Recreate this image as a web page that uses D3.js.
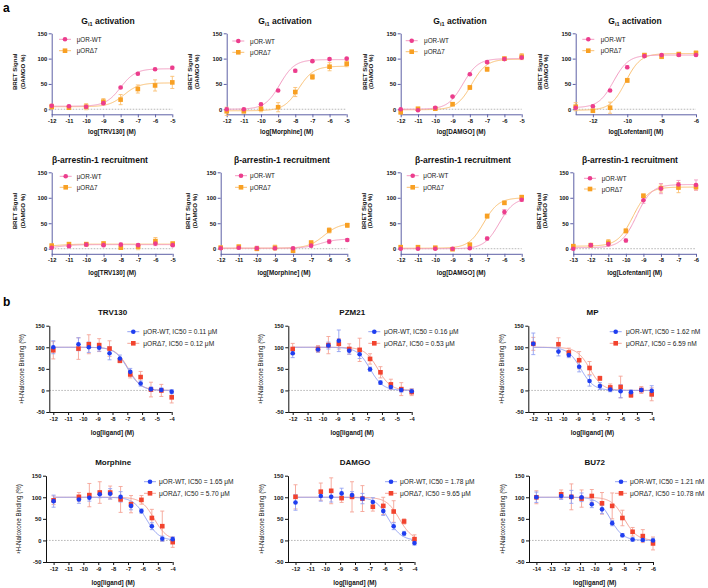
<!DOCTYPE html>
<html><head><meta charset="utf-8">
<script src="https://cdn.jsdelivr.net/npm/d3@7"></script>
<style>body{margin:0;background:#fff}svg{font-family:"Liberation Sans",Arial,sans-serif}</style>
</head><body><svg id="c" width="708" height="588"></svg>
<script>
// ---------------- DATA ----------------
const aDoses   = [-12,-11,-10,-9,-8,-7,-6,-5];
const lofDoses = [-13,-12,-11,-10,-9,-8,-7,-6];
const bDoses   = [-12,-10.3,-9.6,-8.9,-8.2,-7.5,-6.8,-6.1,-5.4,-4.7,-4];
const bu72Doses= [-14,-12.3,-11.6,-10.9,-10.2,-9.5,-8.8,-8.1,-7.4,-6.7,-6];
const aYTicks = [0,50,100,150];
const bYTicks = [-50,0,50,100,150];
const seriesNames = ["μOR-WT","μORΔ7"];
const aLigands = ["TRV130","Morphine","DAMGO","Lofentanil"];
const bLigands = ["TRV130","PZM21","MP","Morphine","DAMGO","BU72"];
const bIC50Labels = [["0.11 μM","0.12 μM"],["0.16 μM","0.53 μM"],["1.62 nM","6.59 nM"],
                     ["1.65 μM","5.70 μM"],["1.78 μM","9.65 μM"],["1.21 nM","10.78 nM"]];

// Gi1 activation (mean, sem)
const giTRV_wt=[7,6,5,12,43,70,79,82],   giTRV_wtE=[2,2,2,3,2,2,2,3];
const giTRV_d7=[5,3,5,15,19,40,47,53],   giTRV_d7E=[5,3,6,6,10,8,11,12];
const giMor_wt=[0,0,10,37,76,95,99,100], giMor_wtE=[2,2,2,2,3,2,2,2];
const giMor_d7=[-4,-4,1,4,34,64,84,90],  giMor_d7E=[8,3,6,9,9,5,8,6];
const giDAM_wt=[0,-2,3,25,69,93,99,102], giDAM_wtE=[1,1,2,2,2,2,2,3];
const giDAM_d7=[-6,1,1,10,43,79,100,104],giDAM_d7E=[3,2,2,3,4,4,3,6];
const giLof_wt=[3,6,37,83,105,107,107,107],giLof_wtE=[2,2,2,3,2,2,2,2];
const giLof_d7=[5,-3,3,57,107,104,109,111],giLof_d7E=[8,2,11,4,3,4,3,4];
// beta-arrestin-1 recruitment
const arTRV_wt=[2,5,8,7,8,7,10,7],       arTRV_wtE=[2,3,2,3,3,3,4,3];
const arTRV_d7=[6,9,9,10,2,4,15,10],     arTRV_d7E=[3,3,3,4,3,6,7,3];
const arMor_wt=[1,2,1,1,1,6,14,17],      arMor_wtE=[2,3,4,3,2,3,4,3];
const arMor_d7=[2,4,0,2,-4,12,36,46],    arMor_d7E=[3,3,4,5,3,3,5,4];
const arDAM_wt=[0,0,0,0,1,20,72,96],     arDAM_wtE=[1,1,1,1,1,3,5,3];
const arDAM_d7=[3,3,2,-1,8,64,90,101],   arDAM_d7E=[2,2,2,2,2,4,3,4];
const arLof_wt=[0,7,9,16,95,118,126,125],arLof_wtE=[2,3,4,3,6,10,8,10];
const arLof_d7=[5,7,12,35,104,119,120,121],arLof_d7E=[2,3,6,4,3,8,10,6];
// fit params: [bottom, top, logEC50]
const fitGi = [[[6,80,-8.0],[5,52,-7.8]],[[0,98,-8.9],[-3,85,-7.8]],[[0,100,-8.4],[-1,99,-7.9]],[[3,107,-10.8],[-2,110,-10.1]]];
const fitAr = [[[1,8,-11.5],[5,9,-11.5]],[[1,19,-6.5],[1,50,-6.3]],[[0,100,-6.3],[1,100,-7.2]],[[2,126,-9.4],[5,121,-9.6]]];

// 3H-naloxone binding
const bTRV_wt=[100,107,100,99,86,74,43,16,3,1,-3],  bTRV_wtE=[15,15,12,8,15,8,8,6,5,5,5];
const bTRV_d7=[93,97,107,105,97,69,37,31,2,0,-16],  bTRV_d7E=[20,25,22,15,18,5,8,13,17,14,13];
const bPZM_wt=[86,95,104,115,92,84,49,18,8,1,-2],   bPZM_wtE=[10,6,8,25,8,10,5,4,5,5,5];
const bPZM_d7=[96,96,105,108,96,94,73,42,14,3,-4],  bPZM_d7E=[13,8,20,12,12,27,12,13,12,15,8];
const bMP_wt =[108,90,82,55,22,10,2,-2,-4,1,-1],    bMP_wtE=[25,10,6,12,12,8,5,15,5,4,12];
const bMP_d7 =[108,107,88,70,52,28,7,8,-11,1,-9],   bMP_d7E=[15,15,10,20,15,5,8,25,5,8,15];
const bMor_wt=[91,95,99,107,108,101,80,68,33,4,3],  bMor_wtE=[14,9,8,8,12,12,9,5,8,6,5];
const bMor_d7=[93,101,105,111,111,95,84,94,52,33,-4],bMor_d7E=[10,10,27,25,15,30,20,10,20,35,12];
const bDAM_wt=[88,103,101,109,105,97,89,68,33,16,-6],bDAM_wtE=[18,12,12,12,8,12,10,10,8,5,5];
const bDAM_d7=[101,113,115,98,101,97,78,80,67,44,3], bDAM_d7E=[28,20,30,10,35,30,10,20,25,6,10];
const bBU_wt =[100,103,101,100,84,72,40,12,2,1,0],  bBU_wtE=[12,8,15,10,8,10,6,4,4,3,5];
const bBU_d7 =[100,107,101,97,103,86,80,52,20,10,-7],bBU_d7E=[15,10,30,20,15,25,30,18,10,15,15];
// log IC50 values
const bLogIC50 = [[-6.96,-6.92],[-6.80,-6.28],[-8.79,-8.18],[-5.78,-5.24],[-5.75,-5.02],[-8.92,-7.97]];

// ---------------- DRAW ----------------
const svg = d3.select('#c');
const COL = {wt:'#ec3d8d', wtL:'#f39cc2', d7:'#f8a023', d7L:'#fbc072',
             bwt:'#1f3ef0', bwtL:'#93a2f3', bd7:'#f2432e', bd7L:'#f5a496'};
const AX_A = '#5d60a6';
const FONT = '"Liberation Sans",Arial,sans-serif';

function drawPanel(c){
  const g = svg.append('g');
  const x = d3.scaleLinear().domain(c.xd).range(c.xr);
  const y = d3.scaleLinear().domain(c.yd).range(c.yr);
  g.append('line').attr('x1',c.axisX).attr('x2',c.xr[1]).attr('y1',y(0)).attr('y2',y(0))
    .attr('stroke','#9a9a9a').attr('stroke-width',0.7).attr('stroke-dasharray','1.6,1.4');
  const yg = g.append('g').attr('transform',`translate(${c.axisX},0)`)
    .call(d3.axisLeft(y).tickValues(c.yt).tickSize(3).tickSizeOuter(0).tickPadding(1.5).tickFormat(d=>String(d)));
  const xg = g.append('g').attr('transform',`translate(0,${c.yr[0]})`)
    .call(d3.axisBottom(x).tickValues(c.xt).tickSize(3).tickSizeOuter(0).tickPadding(1.5).tickFormat(d=>String(d)));
  xg.select('.domain').attr('d',`M${c.axisX},0.5H${c.xr[1]}`);
  [yg,xg].forEach(a=>{
    a.selectAll('.domain,.tick line').attr('stroke',c.axColor).attr('stroke-width',1);
    a.selectAll('text').attr('fill','#111').style('font-family',FONT).style('font-weight','bold').style('font-size',c.tickFs+'px');
  });
  const line = d3.line().x(d=>x(d[0])).y(d=>y(d[1]));
  c.series.forEach(s=>{
    const pts = d3.range(0,201).map(i=>{const xv=c.xd[0]+(c.xd[1]-c.xd[0])*i/200; return [xv,s.f(xv)];});
    g.append('path').attr('d',line(pts)).attr('fill','none').attr('stroke',s.lc).attr('stroke-width',1);
  });
  c.series.forEach(s=>{
    s.x.forEach((xv,i)=>{
      const e=s.e[i]; if(!e) return;
      const px=x(xv), y1=y(s.y[i]+e), y2=y(s.y[i]-e);
      g.append('path').attr('d',`M${px},${y1}V${y2}M${px-2},${y1}H${px+2}M${px-2},${y2}H${px+2}`)
        .attr('stroke',s.ec).attr('stroke-width',0.9).attr('fill','none');
    });
  });
  function marker(s,px,py){
    if(s.shape==='c') g.append('circle').attr('cx',px).attr('cy',py).attr('r',2.3).attr('fill',s.c);
    else g.append('rect').attr('x',px-2.3).attr('y',py-2.3).attr('width',4.6).attr('height',4.6).attr('fill',s.c);
  }
  c.series.forEach(s=>{ s.x.forEach((xv,i)=>marker(s,x(xv),y(s.y[i]))); });
  // legend (WT on top)
  c.series.forEach(s=>{
    const ly=c.leg.y[s.legIdx];
    g.append('line').attr('x1',c.leg.mx-6).attr('x2',c.leg.mx+6).attr('y1',ly).attr('y2',ly).attr('stroke',s.lc).attr('stroke-width',1);
    marker(s,c.leg.mx,ly);
    g.append('text').attr('x',c.leg.tx).attr('y',ly).attr('dominant-baseline','central')
      .style('font-size',c.legFs+'px').attr('fill','#222').text(s.label);
  });
  const t = g.append('text').attr('x',c.titleX).attr('y',c.titleY).attr('text-anchor','middle')
    .style('font-weight','bold').style('font-size',c.titleFs+'px').attr('fill','#111');
  if(c.gi){ t.append('tspan').text('G'); t.append('tspan').attr('dy',2).style('font-size',(c.titleFs*0.65)+'px').text('i1');
            t.append('tspan').attr('dy',-2).text(' activation'); }
  else t.text(c.title);
  g.append('text').attr('x',(c.xr[0]+c.xr[1])/2).attr('y',c.xTitleY).attr('text-anchor','middle').attr('dominant-baseline','central')
    .style('font-weight','bold').style('font-size',c.axFs+'px').attr('fill','#111').text(c.xTitle);
  const yc=(c.yr[0]+c.yr[1])/2 + (c.yTitleDy||0);
  c.yTitle.forEach((txt,i)=>{
    g.append('text').attr('x',c.yTitleX[i]).attr('y',yc).attr('transform',`rotate(-90,${c.yTitleX[i]},${yc})`)
      .attr('text-anchor','middle').attr('dominant-baseline','central')
      .style('font-weight',c.yTitleW).style('font-size',c.yTitleFs+'px').attr('fill','#111').text(txt);
  });
}

function logistic(p){ return xv=>p[0]+(p[1]-p[0])/(1+Math.pow(10,(p[2]-xv))); }
function inhib(l){ return xv=>100/(1+Math.pow(10,(xv-l))); }

const aLayout = [
 [{xr:[51.7,172.3],titleX:108,leg:{mx:65,tx:76.7,y:[39.3,50.7]},yTitleX:[15,23]},
  {xr:[226.7,346.7],titleX:285,leg:{mx:238.3,tx:250,y:[41,52.3]},yTitleX:[190,197]},
  {xr:[400.7,521.7],titleX:460,leg:{mx:411.7,tx:424,y:[40.7,51.7]},yTitleX:[365,371]},
  {xr:[575.7,696],titleX:635,leg:{mx:588.3,tx:600.7,y:[39.3,50.7]},yTitleX:[540,546]}],
 [{xr:[51.7,172.7],titleX:100,leg:{mx:65.7,tx:76.7,y:[176.3,187.3]},yTitleX:[15,22.7]},
  {xr:[220.7,347.3],titleX:282,leg:{mx:241,tx:250,y:[175.7,187.3]},yTitleX:[188,195]},
  {xr:[400.7,521.7],titleX:463,leg:{mx:412.7,tx:423.3,y:[175.7,187.3]},yTitleX:[363.3,369.3]},
  {xr:[573.3,696],titleX:630,leg:{mx:590,tx:601.7,y:[178.3,189]},yTitleX:[538.3,545]}]
];
const aData = [
 [[giTRV_wt,giTRV_wtE,giTRV_d7,giTRV_d7E],[giMor_wt,giMor_wtE,giMor_d7,giMor_d7E],
  [giDAM_wt,giDAM_wtE,giDAM_d7,giDAM_d7E],[giLof_wt,giLof_wtE,giLof_d7,giLof_d7E]],
 [[arTRV_wt,arTRV_wtE,arTRV_d7,arTRV_d7E],[arMor_wt,arMor_wtE,arMor_d7,arMor_d7E],
  [arDAM_wt,arDAM_wtE,arDAM_d7,arDAM_d7E],[arLof_wt,arLof_wtE,arLof_d7,arLof_d7E]]
];
const aRowGeom = [{yr:[114.3,33.3],titleY:23.5,xTitleY:131.7},{yr:[253.8,172.3],titleY:163,xTitleY:272.3}];
[0,1].forEach(r=>{
  aLayout[r].forEach((L,p)=>{
    const isLof = p===3;
    const xs = isLof?lofDoses:aDoses;
    const d = aData[r][p], fits = (r===0?fitGi:fitAr)[p];
    drawPanel(Object.assign({}, L, {
      axisX:L.xr[0], xd:isLof?[-13,-6]:[-12,-5], yd:[-10,150], yr:aRowGeom[r].yr, yt:aYTicks,
      xt: (isLof&&r===0)?[-12,-10,-8,-6]:xs,
      axColor:AX_A, tickFs:5.8, legFs:6.3, titleFs:8.5, axFs:6.3, yTitleFs:6.1, yTitleW:'bold',
      gi: r===0, title:'β-arrestin-1 recruitment', titleY:aRowGeom[r].titleY,
      xTitle:`log[${aLigands[p]}] (M)`, xTitleY:aRowGeom[r].xTitleY,
      yTitle:['BRET Signal','(DAMGO %)'], yTitleDy:-2,
      series:[
        {x:xs,y:d[2],e:d[3],c:COL.d7,lc:COL.d7L,ec:COL.d7L,shape:'s',legIdx:1,label:seriesNames[1],f:logistic(fits[1])},
        {x:xs,y:d[0],e:d[1],c:COL.wt,lc:COL.wtL,ec:COL.wtL,shape:'c',legIdx:0,label:seriesNames[0],f:logistic(fits[0])}
      ]
    }));
  });
});

const bLayout = [
 {xr:[53.3,171.7],axisX:49.3,leg:{mx:133.3,tx:143.3},yTitleX:21.7},
 {xr:[292.7,411.7],axisX:288.3,leg:{mx:374.3,tx:384},yTitleX:261},
 {xr:[533.3,651.7],axisX:528.3,leg:{mx:615.7,tx:626},yTitleX:502},
 {xr:[53.6,172.7],axisX:46,leg:{mx:150,tx:159},yTitleX:19},
 {xr:[295.5,414.5],axisX:288,leg:{mx:391,tx:400},yTitleX:262},
 {xr:[536.4,653],axisX:529,leg:{mx:621,tx:630},yTitleX:503}
];
const bData = [[bTRV_wt,bTRV_wtE,bTRV_d7,bTRV_d7E],[bPZM_wt,bPZM_wtE,bPZM_d7,bPZM_d7E],[bMP_wt,bMP_wtE,bMP_d7,bMP_d7E],
               [bMor_wt,bMor_wtE,bMor_d7,bMor_d7E],[bDAM_wt,bDAM_wtE,bDAM_d7,bDAM_d7E],[bBU_wt,bBU_wtE,bBU_d7,bBU_d7E]];
bLayout.forEach((L,p)=>{
  const row = p<3?0:1, dy = row*150;
  const isBU = p===5;
  const xs = isBU?bu72Doses:bDoses;
  const xd = isBU?[-14,-6]:[-12,-4];
  const d = bData[p];
  drawPanel(Object.assign({}, L, {
    xd, yd:[-50,150], yr:[412+dy,325.7+dy], yt:bYTicks, xt:d3.range(xd[0],xd[1]+1),
    axColor:'#111', tickFs:5.8, legFs:6.6, titleFs:8, axFs:6.3, yTitleFs:6.3, yTitleW:'normal',
    title:bLigands[p], titleX:(L.xr[0]+L.xr[1])/2, titleY:314.5+dy,
    xTitle:'log[ligand] (M)', xTitleY:432+dy,
    yTitle:['³H-Naloxone Binding (%)'], yTitleX:[L.yTitleX],
    leg:{mx:L.leg.mx,tx:L.leg.tx,y:[331.7+dy,343.3+dy]},
    series:[
      {x:xs,y:d[2],e:d[3],c:COL.bd7,lc:COL.bd7L,ec:COL.bd7L,shape:'s',legIdx:1,label:`${seriesNames[1]}, IC50 = ${bIC50Labels[p][1]}`,f:inhib(bLogIC50[p][1])},
      {x:xs,y:d[0],e:d[1],c:COL.bwt,lc:COL.bwtL,ec:COL.bwtL,shape:'c',legIdx:0,label:`${seriesNames[0]}, IC50 = ${bIC50Labels[p][0]}`,f:inhib(bLogIC50[p][0])}
    ]
  }));
});

svg.append('text').attr('x',3).attr('y',12).style('font-weight','bold').style('font-size','12px').text('a');
svg.append('text').attr('x',3).attr('y',306).style('font-weight','bold').style('font-size','12px').text('b');
</script></body></html>
